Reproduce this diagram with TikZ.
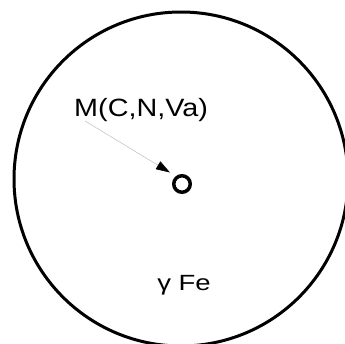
\documentclass[tikz,border=0pt]{standalone}
\usepackage{fontspec}
\setmainfont{Liberation Sans}
\usetikzlibrary{arrows.meta}
\begin{document}
\begin{tikzpicture}[x=1pt,y=-1pt,
  lbl/.style={inner sep=0pt,anchor=base west},
  ring/.style={circle,draw=black,line width=3.5pt,minimum size=16.5pt,inner sep=0pt}]
\useasboundingbox (0,0) rectangle (345,343);
\draw[line width=3pt] (181,179) circle[radius=167];
\node[ring] (o) at (182,184) {};
\node[lbl,xscale=1.15,font=\fontsize{25}{29}\selectfont] (m) at (74,116.5) {M(C,N,Va)};
\node[lbl,xscale=1.25,font=\fontsize{22}{26}\selectfont] (g) at (157,290) {γ Fe};
\coordinate (s) at (85,121);
\coordinate (t) at (170,172.5);
\draw[gray!45,line width=0.6pt,-{Triangle[black,length=14pt,width=9pt]}] (s) -- (t);
\end{tikzpicture}
\end{document}
